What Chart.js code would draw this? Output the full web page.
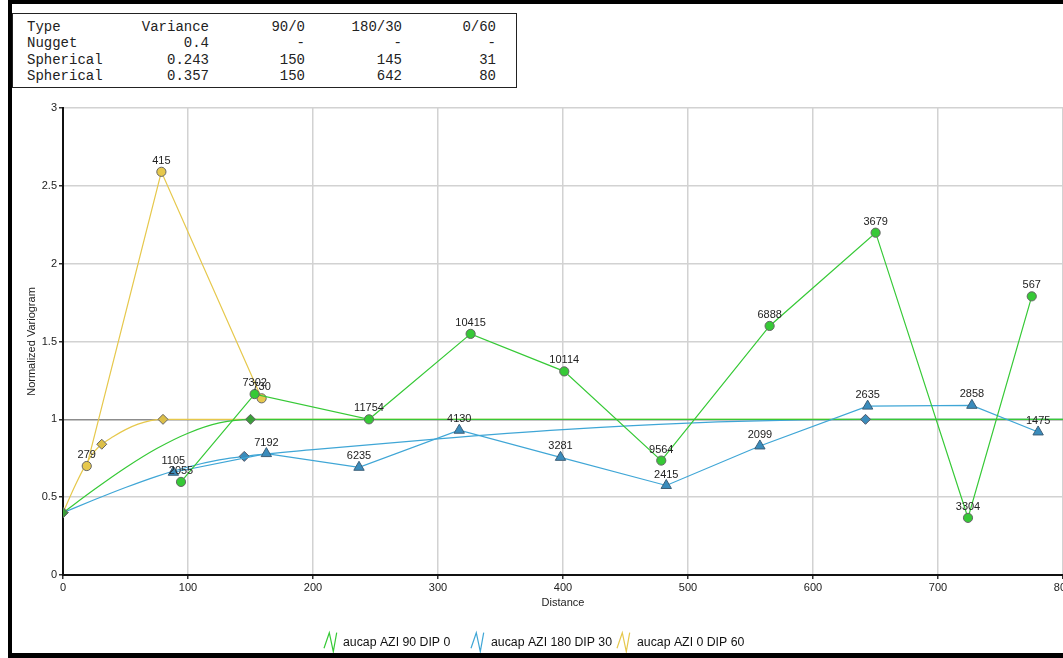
<!DOCTYPE html>
<html>
<head>
<meta charset="utf-8">
<script src="https://cdn.jsdelivr.net/npm/chart.js"></script>
<style>
  html, body { margin: 0; padding: 0; background: #fff; }
  #wrap { position: relative; width: 1063px; height: 658px; overflow: hidden; }
  #myChart { position: absolute; left: 0; top: 0; }
  #frame {
    position: absolute; left: 8px; top: 0; width: 1100px; height: 658px;
    box-sizing: border-box; border-top: 4px solid #000; border-left: 4px solid #000;
    border-bottom: 5px solid #000; pointer-events: none;
  }
  #params {
    position: absolute; left: 12px; top: 13px; width: 505px; height: 75px;
    box-sizing: border-box; border: 1px solid #222; background: #fff;
  }
  #params table {
    position: absolute; left: 14px; top: 5px; border-collapse: collapse;
    font-family: "Liberation Mono", "Courier New", monospace; font-size: 14px; color: #222;
  }
  #params td { padding: 0; line-height: 16.3px; text-align: right; white-space: pre; }
  #params td:first-child { text-align: left; }
</style>
</head>
<body>
<div id="wrap">
  <canvas id="myChart" width="1070" height="658"></canvas>
  <div id="params">
    <table>
      <colgroup><col style="width:100px"><col style="width:82px"><col style="width:96px"><col style="width:97px"><col style="width:94px"></colgroup>
      <tbody id="paramBody"></tbody>
    </table>
  </div>
  <div id="frame"></div>
</div>
<script>
// variogram model table
const tableHeader = ['Type', 'Variance', '90/0', '180/30', '0/60'];
const tableRows = [
  ['Nugget', '0.4', '-', '-', '-'],
  ['Spherical', '0.243', '150', '145', '31'],
  ['Spherical', '0.357', '150', '642', '80']
];

const seriesNames = ['aucap AZI 90 DIP 0', 'aucap AZI 180 DIP 30', 'aucap AZI 0 DIP 60'];

// experimental points: distance, normalized variogram, pair count
const greenDist = [94.4, 153.3, 244.8, 326.1, 401, 478.6, 565.3, 650.1, 724, 775];
const greenVal = [0.598, 1.162, 1.0, 1.549, 1.308, 0.735, 1.60, 2.199, 0.367, 1.79];
const greenPairs = [2055, 7302, 11754, 10415, 10114, 9564, 6888, 3679, 3304, 567];

const blueDist = [88.3, 162.7, 236.8, 317, 398, 482.6, 557.5, 643.7, 727.1, 780.1];
const blueVal = [0.66, 0.78, 0.692, 0.93, 0.756, 0.575, 0.829, 1.085, 1.09, 0.919];
const bluePairs = [1105, 7192, 6235, 4130, 3281, 2415, 2099, 2635, 2858, 1475];

const yellowDist = [19, 78.7, 158.9];
const yellowVal = [0.70, 2.59, 1.135];
const yellowPairs = [279, 415, 730];

// fitted model curves
const greenModelDist = [0, 25, 50, 75, 100, 125, 150, 800];
const greenModelVal = [0.4, 0.549, 0.689, 0.8125, 0.911, 0.977, 1.0, 1.0];
const blueModelDist = [0, 25, 50, 75, 100, 125, 145, 200, 300, 400, 500, 600, 642, 800];
const blueModelVal = [0.4, 0.483, 0.562, 0.634, 0.694, 0.739, 0.762, 0.805, 0.875, 0.934, 0.976, 0.998, 1.0, 1.0];
const yellowModelDist = [0, 10, 18, 25, 31, 40, 50, 60, 70, 80, 800];
const yellowModelVal = [0.4, 0.58, 0.706, 0.792, 0.84, 0.888, 0.934, 0.969, 0.992, 1.0, 1.0];

// range markers on the model curves
const greenMarkDist = [0, 150];
const greenMarkVal = [0.4, 1.0];
const blueMarkDist = [0, 145, 642];
const blueMarkVal = [0.4, 0.762, 1.0];
const yellowMarkDist = [0, 31, 80];
const yellowMarkVal = [0.4, 0.84, 1.0];

const xTicks = [0, 100, 200, 300, 400, 500, 600, 700, 800];
const yTicks = [0, 0.5, 1, 1.5, 2, 2.5, 3];

const colors = {
  green: '#36c936', blue: '#3fa6d6', yellow: '#e6c84c',
  greenMark: '#3a9e3a', blueMark: '#3a8cbc', yellowMark: '#dcbf48'
};

// fill the table
const body = document.getElementById('paramBody');
[tableHeader].concat(tableRows).forEach(function(row) {
  const tr = document.createElement('tr');
  row.forEach(function(cell) {
    const td = document.createElement('td');
    td.textContent = cell;
    tr.appendChild(td);
  });
  body.appendChild(tr);
});

function pts(xs, ys) {
  return xs.map(function(x, i) { return { x: x, y: ys[i] }; });
}

const pairLabels = {
  id: 'pairLabels',
  afterDatasetsDraw(chart) {
    const ctx = chart.ctx;
    ctx.save();
    ctx.font = '11px "Liberation Sans", Arial, sans-serif';
    ctx.fillStyle = '#222';
    ctx.textAlign = 'center';
    ctx.textBaseline = 'middle';
    chart.data.datasets.forEach(function(ds, di) {
      if (!ds.pairs) return;
      chart.getDatasetMeta(di).data.forEach(function(el, i) {
        ctx.fillText(String(ds.pairs[i]), el.x, el.y - 11);
      });
    });
    ctx.restore();
  }
};

const zigLegend = {
  id: 'zigLegend',
  afterDraw(chart) {
    const ctx = chart.ctx;
    const iconX = [324, 471, 617];
    const textX = [343, 491, 637];
    const cols = [colors.green, colors.blue, colors.yellow];
    ctx.save();
    ctx.font = '12.3px "Liberation Sans", Arial, sans-serif';
    ctx.textBaseline = 'middle';
    ctx.textAlign = 'left';
    seriesNames.forEach(function(name, i) {
      const x0 = iconX[i], top = 632.7;
      ctx.strokeStyle = cols[i];
      ctx.lineWidth = 1.2;
      ctx.beginPath();
      ctx.moveTo(x0, top + 15.6);
      ctx.lineTo(x0 + 5.3, top);
      ctx.lineTo(x0 + 9.3, top + 19);
      ctx.lineTo(x0 + 12.7, top);
      ctx.stroke();
      ctx.fillStyle = '#111';
      ctx.fillText(name, textX[i], 642.5);
    });
    ctx.restore();
  }
};

const ctx = document.getElementById('myChart');
new Chart(ctx, {
  type: 'scatter',
  data: {
    datasets: [
      {
        label: seriesNames[0], data: pts(greenDist, greenVal), pairs: greenPairs,
        showLine: true, borderColor: colors.green, borderWidth: 1.2,
        pointBackgroundColor: colors.green, pointBorderColor: '#666', pointBorderWidth: 1,
        pointRadius: 4.6, pointStyle: 'circle', order: 0
      },
      {
        label: seriesNames[1], data: pts(blueDist, blueVal), pairs: bluePairs,
        showLine: true, borderColor: colors.blue, borderWidth: 1.2,
        pointBackgroundColor: colors.blueMark, pointBorderColor: '#3d5f78', pointBorderWidth: 1,
        pointRadius: 6, pointStyle: 'triangle', order: 1
      },
      {
        label: seriesNames[2], data: pts(yellowDist, yellowVal), pairs: yellowPairs,
        showLine: true, borderColor: colors.yellow, borderWidth: 1.2,
        pointBackgroundColor: colors.yellow, pointBorderColor: '#666', pointBorderWidth: 1,
        pointRadius: 4.6, pointStyle: 'circle', order: 2
      },
      {
        data: pts(greenMarkDist, greenMarkVal), showLine: false,
        pointBackgroundColor: colors.greenMark, pointBorderColor: '#666', pointBorderWidth: 1,
        pointRadius: 5, pointStyle: 'rectRot', order: 3
      },
      {
        data: pts(blueMarkDist, blueMarkVal), showLine: false,
        pointBackgroundColor: colors.blueMark, pointBorderColor: '#556', pointBorderWidth: 1,
        pointRadius: 5, pointStyle: 'rectRot', order: 4
      },
      {
        data: pts(yellowMarkDist, yellowMarkVal), showLine: false,
        pointBackgroundColor: colors.yellowMark, pointBorderColor: '#666', pointBorderWidth: 1,
        pointRadius: 5, pointStyle: 'rectRot', order: 5
      },
      {
        data: pts(greenModelDist, greenModelVal), showLine: true, pointRadius: 0,
        borderColor: colors.green, borderWidth: 1.2, cubicInterpolationMode: 'monotone', order: 6
      },
      {
        data: pts(blueModelDist, blueModelVal), showLine: true, pointRadius: 0,
        borderColor: colors.blue, borderWidth: 1.2, cubicInterpolationMode: 'monotone', order: 7
      },
      {
        data: pts(yellowModelDist, yellowModelVal), showLine: true, pointRadius: 0,
        borderColor: colors.yellow, borderWidth: 1.2, cubicInterpolationMode: 'monotone', order: 8
      }
    ]
  },
  options: {
    responsive: false,
    animation: false,
    layout: { padding: { top: 108, left: 0, right: 0, bottom: 0 } },
    plugins: { legend: { display: false }, tooltip: { enabled: false } },
    scales: {
      x: {
        type: 'linear', min: 0, max: 800,
        afterBuildTicks(scale) { scale.ticks = xTicks.map(function(v) { return { value: v }; }); },
        afterFit(scale) { scale.height = 83; scale.paddingLeft = 0; scale.paddingRight = 0; },
        ticks: { font: { size: 11, family: '"Liberation Sans", Arial' }, color: '#222', padding: 2, maxRotation: 0,
          callback: function(v) { return String(v); } },
        grid: { color: '#d2d2d2', lineWidth: 1.5, tickLength: 4, tickColor: '#333' },
        border: { color: '#111', width: 2 },
        title: { display: true, text: 'Distance', color: '#222', font: { size: 11, family: '"Liberation Sans", Arial' }, padding: { top: 0, bottom: 48 } }
      },
      y: {
        type: 'linear', min: 0, max: 3,
        afterBuildTicks(scale) { scale.ticks = yTicks.map(function(v) { return { value: v }; }); },
        afterFit(scale) { scale.width = 63; scale.paddingTop = 0; scale.paddingBottom = 0; },
        ticks: { font: { size: 11, family: '"Liberation Sans", Arial' }, color: '#222', padding: 2,
          callback: function(v) { return String(v); } },
        grid: {
          color: function(c) { return c.tick && c.tick.value === 1 ? '#8c8c8c' : '#d2d2d2'; },
          lineWidth: 1.5, tickLength: 4, tickColor: '#333'
        },
        border: { color: '#111', width: 2 },
        title: { display: true, text: 'Normalized Variogram', color: '#222', font: { size: 11, family: '"Liberation Sans", Arial' }, padding: { top: 25, bottom: 0 } }
      }
    }
  },
  plugins: [pairLabels, zigLegend]
});
</script>
</body>
</html>
